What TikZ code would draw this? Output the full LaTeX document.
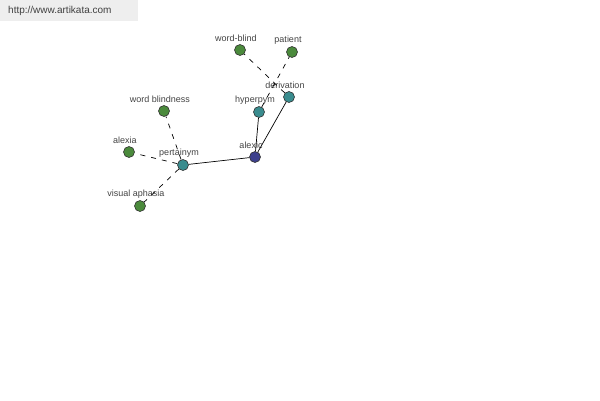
\documentclass[tikz,border=0pt]{standalone}
\usepackage{fontspec}
\setmainfont{Liberation Sans}
\usepackage{tikz}

\definecolor{leafgreen}{HTML}{4B8A3C}
\definecolor{relteal}{HTML}{3A8C8E}
\definecolor{rootblue}{HTML}{3D408C}
\definecolor{labelgray}{HTML}{444444}
\definecolor{bargray}{HTML}{EEEEEE}

\tikzset{
  word/.style={circle, draw=black!80, line width=0.6pt, minimum size=11pt, inner sep=0pt},
  lbl/.style={font=\fontsize{9}{10}\selectfont, text=labelgray, inner sep=0pt, xshift=-4pt},
  rel/.style={line width=0.7pt},
  sense/.style={line width=0.7pt, dash pattern=on 5pt off 6pt}
}

\begin{document}
\begin{tikzpicture}[x=1pt, y=-1pt, label distance=2pt]
        \useasboundingbox[fill=white] (0,0) rectangle (600,400);
        \fill[bargray] (0,0) rectangle (138,21);
        \node[font=\fontsize{10}{12}\selectfont, text=black!75, anchor=west, inner sep=0pt] (url) at (8,11) {http://www.artikata.com};
        \node[word, fill=rootblue, label={[lbl]above:alexic}] (alexic) at (255,157) {};
        \node[word, fill=relteal, label={[lbl]above:pertainym}] (pertainym) at (183,165) {};
        \node[word, fill=relteal, label={[lbl]above:hyperpym}] (hyperpym) at (259,112) {};
        \node[word, fill=relteal, label={[lbl]above:derivation}] (derivation) at (289,97) {};
        \node[word, fill=leafgreen, label={[lbl]above:word-blind}] (wordblind) at (240,50) {};
        \node[word, fill=leafgreen, label={[lbl]above:patient}] (patient) at (292,52) {};
        \node[word, fill=leafgreen, label={[lbl]above:word blindness}] (wordblindness) at (164,111) {};
        \node[word, fill=leafgreen, label={[lbl]above:alexia}] (alexia) at (129,152) {};
        \node[word, fill=leafgreen, label={[lbl]above:visual aphasia}] (visualaphasia) at (140,206) {};
        \draw[rel] (alexic) -- (pertainym); \draw[rel] (alexic) -- (hyperpym); \draw[rel] (alexic) -- (derivation);
        \draw[sense] (pertainym) -- (wordblindness); \draw[sense] (pertainym) -- (alexia); \draw[sense] (pertainym) -- (visualaphasia);
        \draw[sense] (derivation) -- (wordblind); \draw[sense] (hyperpym) -- (patient);
    \end{tikzpicture}
\end{document}
